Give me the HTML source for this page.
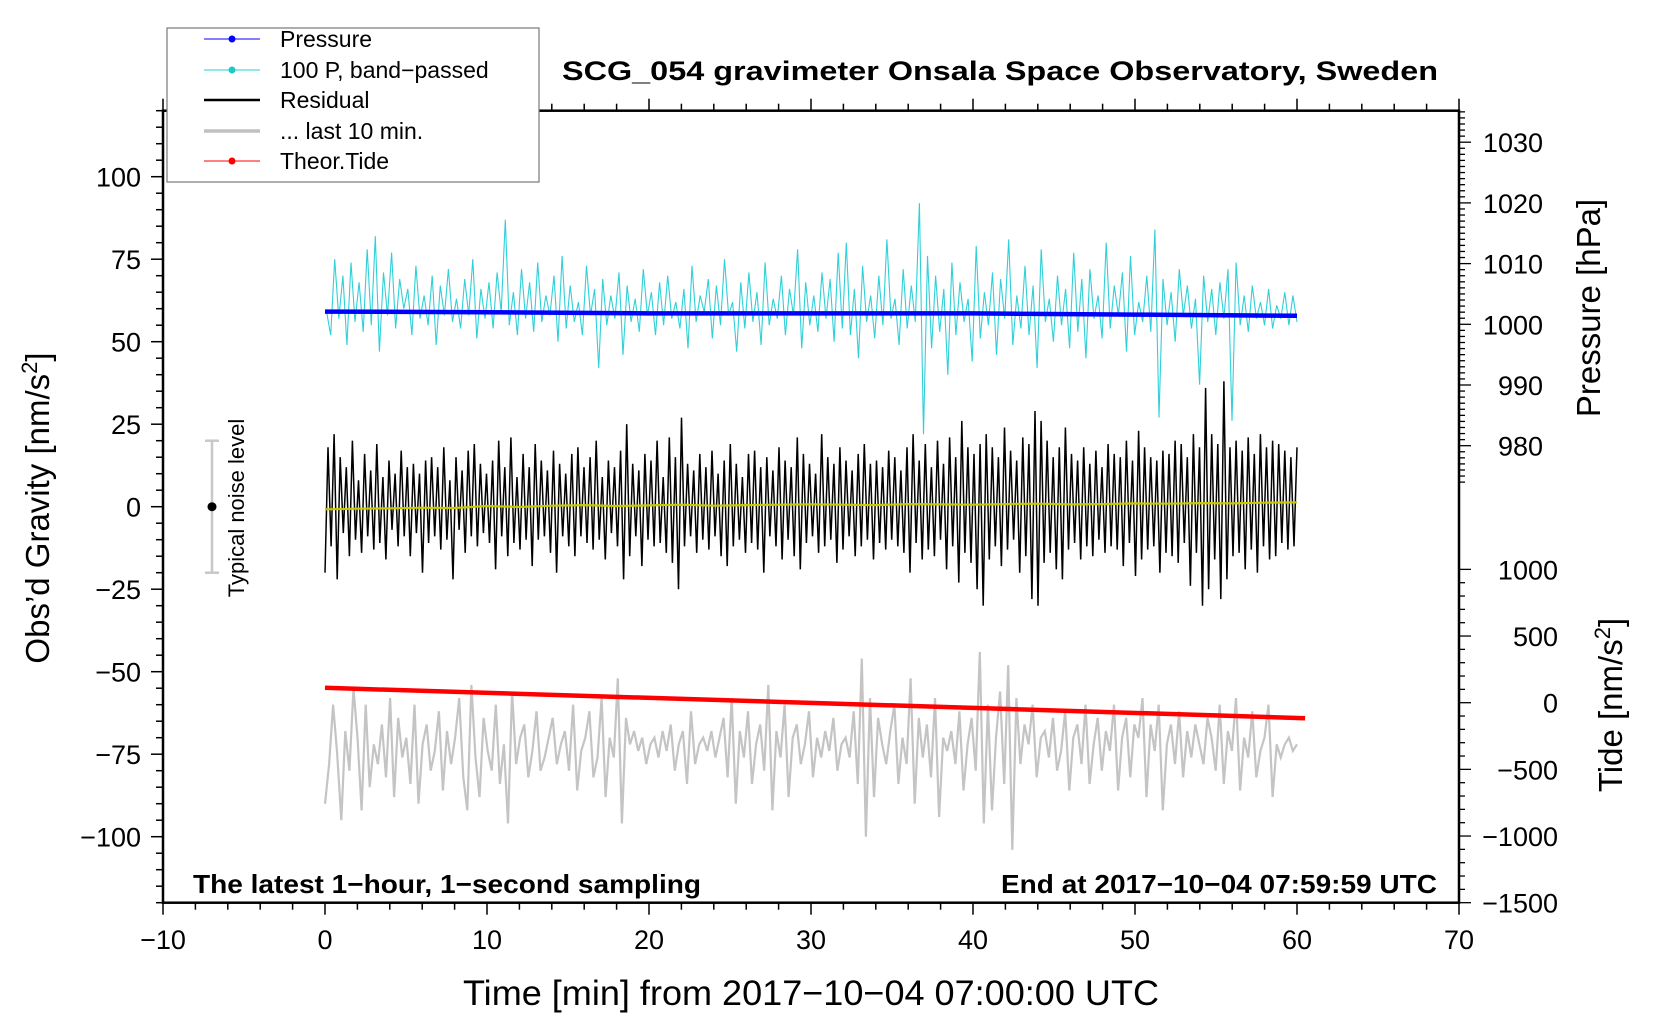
<!DOCTYPE html>
<html><head><meta charset="utf-8">
<style>
html,body{margin:0;padding:0;background:#fff;}
svg{display:block;font-family:"Liberation Sans",Arial,sans-serif;}
</style></head>
<body>
<svg id="chart" width="1660" height="1020" viewBox="0 0 1660 1020" xmlns="http://www.w3.org/2000/svg">
<rect x="0" y="0" width="1660" height="1020" fill="#fff"/>
<g id="series"></g>
<rect x="163" y="110.7" width="1296" height="792" fill="none" stroke="#000" stroke-width="2.5"/>
<g id="axes"></g>
<text x="1000" y="80" text-anchor="middle" font-size="27" font-weight="bold" textLength="876" lengthAdjust="spacingAndGlyphs">SCG_054 gravimeter Onsala Space Observatory, Sweden</text>
<text x="193" y="893" font-size="26" font-weight="bold" textLength="508" lengthAdjust="spacingAndGlyphs">The latest 1−hour, 1−second sampling</text>
<text x="1437" y="893" text-anchor="end" font-size="26" font-weight="bold" textLength="436" lengthAdjust="spacingAndGlyphs">End at 2017−10−04 07:59:59 UTC</text>
<text x="811" y="1005" text-anchor="middle" font-size="35" textLength="696" lengthAdjust="spacingAndGlyphs">Time [min] from 2017−10−04 07:00:00 UTC</text>
<text transform="translate(49,508) rotate(-90)" text-anchor="middle" font-size="33">Obs’d Gravity [nm/s<tspan font-size="22" dy="-12">2</tspan><tspan dy="12">]</tspan></text>
<text transform="translate(1600,308) rotate(-90)" text-anchor="middle" font-size="33">Pressure [hPa]</text>
<text transform="translate(1622,705) rotate(-90)" text-anchor="middle" font-size="33">Tide [nm/s<tspan font-size="22" dy="-12">2</tspan><tspan dy="12">]</tspan></text>
<g>
<line x1="212" y1="440.7" x2="212" y2="572.7" stroke="#c8c8c8" stroke-width="2.5"/>
<line x1="205" y1="440.7" x2="219" y2="440.7" stroke="#c8c8c8" stroke-width="2.5"/>
<line x1="205" y1="572.7" x2="219" y2="572.7" stroke="#c8c8c8" stroke-width="2.5"/>
<circle cx="212" cy="506.7" r="4.5" fill="#000"/>
<text transform="translate(244,508) rotate(-90)" text-anchor="middle" font-size="22">Typical noise level</text>
</g>
<g>
<rect x="167" y="28" width="372" height="154" fill="#fff" stroke="#777" stroke-width="1.2"/>
<g><line x1="204" y1="39" x2="260" y2="39" stroke="#00f" stroke-width="1"/><circle cx="232" cy="39" r="3.5" fill="#00f"/><text x="280" y="47" font-size="23">Pressure</text></g>
<g><line x1="204" y1="70" x2="260" y2="70" stroke="#20d0d0" stroke-width="1"/><circle cx="232" cy="70" r="3.5" fill="#20c8c8"/><text x="280" y="78" font-size="23">100 P, band−passed</text></g>
<g><line x1="204" y1="100" x2="260" y2="100" stroke="#000" stroke-width="2.5"/><text x="280" y="108" font-size="23">Residual</text></g>
<g><line x1="204" y1="131" x2="260" y2="131" stroke="#c0c0c0" stroke-width="3.5"/><text x="280" y="139" font-size="23">... last 10 min.</text></g>
<g><line x1="204" y1="161" x2="260" y2="161" stroke="#f00" stroke-width="1"/><circle cx="232" cy="161" r="3.5" fill="#f00"/><text x="280" y="169" font-size="23">Theor.Tide</text></g>
</g>
</svg>
<script>
// ---- data arrays ----
const xTicks = [-10,0,10,20,30,40,50,60,70];
const gravTicks = [100,75,50,25,0,-25,-50,-75,-100];
const pressTicks = [1030,1020,1010,1000,990,980];
const tideTicks = [1000,500,0,-500,-1000,-1500];
const pressureTimes = [0,10,20,30,40,50,60];
const pressureValues = [1002.1,1002.0,1001.8,1001.8,1001.8,1001.6,1001.4];
const tideTimes = [0,60.5];
const tideValues = [112,-116];
const meanValues = [-0.8,-0.6,-0.5,-0.3,-0.4,0.2,-0.1,0.3,0.5,0.2,0.4,0.6,0.3,0.5,0.6,0.7,0.6,0.5,0.8,0.7,0.6,0.8,0.9,0.7,0.8,1.0,0.9,1.1,1.0,1.2,1.3];
const residual = [
-20,18,-12,22,-22,15,-8,12,-15,20,-10,8,-14,16,-9,11,-13,19,-11,9,
-16,14,-7,10,-12,17,-9,12,-15,13,-8,10,-20,14,-11,15,-9,12,-13,18,
-10,8,-22,15,-7,11,-14,17,-9,19,-12,13,-8,10,-11,14,-19,20,-9,12,
-15,21,-11,9,-13,16,-10,12,-18,19,-10,14,-9,11,-14,17,-20,13,-9,10,
-12,16,-15,18,-9,12,-11,15,-13,20,-10,9,-16,14,-8,12,-12,17,-22,25,
-15,13,-9,11,-18,16,-10,14,-12,20,-11,9,-14,21,-17,15,-25,27,-12,13,
-9,11,-14,16,-10,12,-13,17,-9,10,-15,14,-18,19,-12,13,-10,9,-14,16,
-11,17,-13,12,-20,15,-9,11,-12,18,-16,14,-10,12,-15,21,-19,16,-11,13,
-9,10,-14,22,-12,15,-10,13,-17,18,-13,14,-9,11,-15,16,-12,19,-10,13,
-16,14,-11,12,-13,17,-10,15,-12,11,-14,18,-20,22,-11,14,-16,19,-13,12,
-15,20,-10,13,-19,21,-12,15,-23,26,-14,18,-17,16,-25,19,-30,22,-16,18,
-12,15,-18,24,-13,17,-10,14,-20,21,-15,19,-28,29,-30,26,-17,20,-14,15,
-19,18,-22,24,-13,16,-11,14,-16,18,-12,13,-15,17,-10,12,-14,19,-12,16,
-13,15,-18,20,-11,14,-21,23,-16,18,-13,15,-12,14,-20,17,-14,16,-15,20,
-17,19,-11,15,-24,22,-14,18,-30,36,-25,22,-16,19,-28,38,-22,18,-15,20,
-14,17,-19,21,-13,16,-20,22,-12,18,-16,20,-15,19,-11,17,-13,15,-12,18
];
const bandpass = [
59,52,75,57,70,49,74,56,68,53,78,55,82,47,71,58,77,54,69,60,
66,52,73,57,64,55,70,49,67,58,72,56,63,54,69,58,75,51,66,57,
68,54,71,59,87,55,65,52,72,57,68,53,74,56,64,58,70,50,76,54,
67,56,62,52,73,58,66,42,69,55,64,57,71,46,67,56,63,53,72,58,
65,52,68,55,70,57,62,54,66,48,73,56,64,59,69,51,67,55,75,58,
62,47,68,54,71,56,65,49,74,55,63,57,70,52,66,58,78,48,68,55,
64,53,71,57,69,50,77,54,80,52,66,45,73,56,64,51,70,55,81,57,
63,49,72,54,67,56,92,22,76,48,70,53,66,40,74,52,68,56,63,44,
79,51,65,55,71,46,69,57,81,49,64,54,73,52,67,42,78,56,63,50,
70,55,66,48,77,53,69,45,72,57,64,51,80,54,67,58,71,47,76,52,
62,56,70,53,84,27,69,55,65,50,72,58,67,54,63,37,70,56,66,52,
68,57,72,26,74,55,64,53,67,57,62,55,66,54,61,57,65,55,64,56
];
const gray = [
-90,-78,-60,-75,-95,-68,-80,-55,-70,-92,-60,-85,-72,-78,-66,-82,-58,-88,-64,-76,
-70,-84,-60,-90,-72,-66,-80,-74,-62,-86,-68,-78,-70,-58,-82,-92,-54,-76,-88,-64,
-74,-80,-60,-84,-72,-96,-56,-78,-70,-66,-82,-74,-62,-80,-76,-70,-64,-78,-72,-68,
-80,-60,-86,-74,-70,-62,-82,-76,-58,-88,-70,-76,-52,-96,-64,-72,-68,-74,-70,-78,
-72,-70,-76,-68,-74,-66,-80,-72,-68,-84,-62,-78,-72,-70,-74,-68,-76,-70,-64,-82,
-58,-90,-68,-76,-62,-84,-72,-66,-80,-54,-92,-68,-76,-60,-88,-70,-66,-78,-72,-62,
-82,-70,-76,-68,-74,-64,-80,-72,-70,-76,-62,-84,-46,-100,-58,-88,-64,-72,-78,-68,
-60,-84,-70,-78,-52,-90,-64,-76,-66,-82,-58,-94,-70,-74,-68,-78,-62,-86,-72,-64,
-80,-44,-96,-60,-92,-70,-56,-84,-48,-104,-58,-78,-66,-72,-60,-82,-70,-68,-76,-64,
-80,-74,-62,-86,-70,-66,-78,-60,-84,-72,-64,-80,-68,-74,-60,-86,-70,-64,-82,-66,
-70,-58,-88,-66,-74,-60,-92,-72,-66,-78,-62,-82,-68,-76,-66,-72,-78,-64,-70,-80,
-60,-84,-68,-74,-58,-86,-70,-76,-62,-82,-74,-70,-60,-88,-72,-76,-72,-70,-74,-72
];
// ---- scales ----
const X0=163, X1=1459, Y0=110.7, Y1=902.7;
function xs(t){return X0+(t+10)/80*(X1-X0);}
function yg(v){return 506.7-v*3.3;}
function yp(p){return 324.3-(p-1000)*6.07;}
function yt(v){return 702.7-v*0.13333;}
const NS='http://www.w3.org/2000/svg';
const series=document.getElementById('series');
const axes=document.getElementById('axes');
function mk(tag,attrs,parent){const e=document.createElementNS(NS,tag);for(const k in attrs)e.setAttribute(k,attrs[k]);parent.appendChild(e);return e;}
function poly(times,vals,fy){return times.map((t,i)=>xs(t).toFixed(1)+','+fy(vals[i]).toFixed(1)).join(' ');}
const gT=gray.map((v,i)=>i*60/(gray.length-1));
const gl=mk('polyline',{points:poly(gT,gray,yg),fill:'none',stroke:'#c4c4c4','stroke-width':2.2},series);


const tl=mk('polyline',{points:poly(tideTimes,tideValues,yt),fill:'none',stroke:'#f00','stroke-width':4.5},series);


const bT=bandpass.map((v,i)=>0.1+i*59.9/(bandpass.length-1));
const bl=mk('polyline',{points:poly(bT,bandpass,yg),fill:'none',stroke:'#30d0d8','stroke-width':1.1},series);


const pl=mk('polyline',{points:poly(pressureTimes,pressureValues,yp),fill:'none',stroke:'#00f','stroke-width':4.5},series);


const rT=residual.map((v,i)=>i*60/(residual.length-1));
const rl=mk('polyline',{points:poly(rT,residual,yg),fill:'none',stroke:'#000','stroke-width':1.5},series);


const mT=meanValues.map((v,i)=>i*2);
const ml=mk('polyline',{points:poly(mT,meanValues,yg),fill:'none',stroke:'#c8c800','stroke-width':2.2},series);


for(let t=-10;t<=70;t+=2){const big=t%10===0;
 mk('line',{x1:xs(t),x2:xs(t),y1:Y1,y2:Y1+(big?12:7),stroke:'#000','stroke-width':1.5},axes);
 mk('line',{x1:xs(t),x2:xs(t),y1:Y0,y2:Y0-(big?12:7),stroke:'#000','stroke-width':1.5},axes);}
xTicks.forEach(t=>{const e=mk('text',{x:xs(t),y:949,'text-anchor':'middle','font-size':27},axes);e.textContent=String(t).replace('-','−');
 
 });
for(let v=-120;v<=120;v+=5){const big=v%25===0;mk('line',{x1:X0,x2:X0-(big?12:7),y1:yg(v),y2:yg(v),stroke:'#000','stroke-width':1.5},axes);}
gravTicks.forEach(v=>{const e=mk('text',{x:141,y:yg(v)+10,'text-anchor':'end','font-size':27},axes);e.textContent=String(v).replace('-','−');
 
 });
for(let p=974;p<=1036;p+=1){if(yp(p)<Y0)continue;const big=p%10===0;mk('line',{x1:X1,x2:X1+(big?12:6),y1:yp(p),y2:yp(p),stroke:'#000','stroke-width':1.3},axes);}
pressTicks.forEach(p=>{const e=mk('text',{x:1543,y:yp(p)+10,'text-anchor':'end','font-size':27},axes);e.textContent=String(p);
 
 });
for(let v=-1500;v<=1000;v+=100){const big=v%500===0;mk('line',{x1:X1,x2:X1+(big?12:6),y1:yt(v),y2:yt(v),stroke:'#000','stroke-width':1.3},axes);}
tideTicks.forEach(v=>{const e=mk('text',{x:1558,y:yt(v)+10,'text-anchor':'end','font-size':27},axes);e.textContent=String(v).replace('-','−');
 
 });
</script>
</body></html>
